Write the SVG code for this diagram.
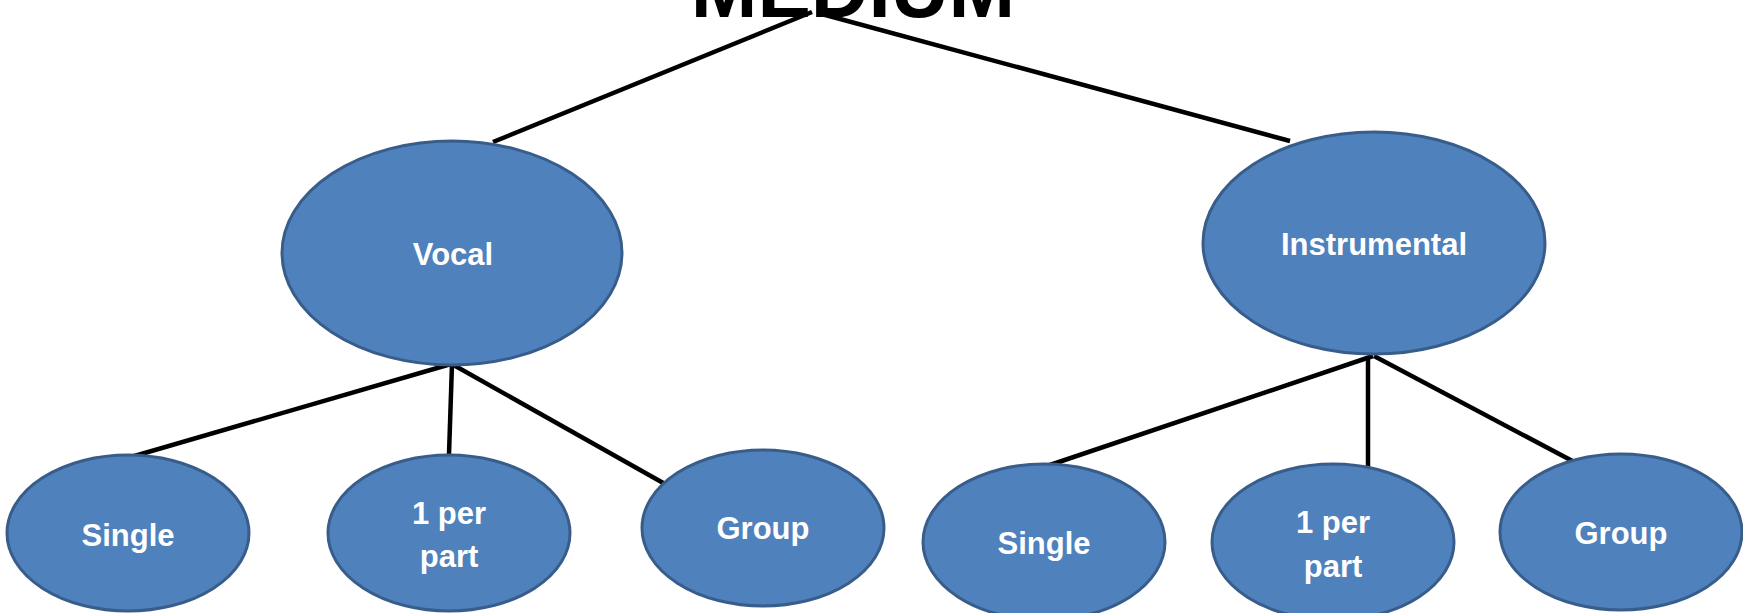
<svg xmlns="http://www.w3.org/2000/svg" width="1743" height="613" viewBox="0 0 1743 613">
<style>
.node ellipse{fill:#4F81BD;stroke:#385D8A;stroke-width:3}
.node text{fill:#FFFFFF;font-family:"Liberation Sans",Arial,sans-serif;font-weight:bold;font-size:31px;text-anchor:middle}
#connectors line{stroke:#000000;stroke-width:4.5;stroke-linecap:butt}
.title{fill:#000000;font-family:"Liberation Sans",Arial,sans-serif;font-weight:bold;font-size:80px;text-anchor:middle}
</style>
<rect width="1743" height="613" fill="#FFFFFF"/>
<g id="connectors">
<line x1="493" y1="142" x2="812" y2="12"/>
<line x1="818" y1="13" x2="1290" y2="141"/>
<line x1="451" y1="364" x2="131" y2="457"/>
<line x1="452" y1="364" x2="449" y2="454"/>
<line x1="450" y1="363" x2="665" y2="484"/>
<line x1="1373" y1="356" x2="1044" y2="467"/>
<line x1="1368" y1="356" x2="1368" y2="468"/>
<line x1="1374" y1="356" x2="1580" y2="465"/>
</g>
<g id="title"><text class="title" x="853" y="17">MEDIUM</text></g>
<g id="vocal" class="node"><ellipse cx="452" cy="253" rx="170" ry="112"/><text x="453" y="265">Vocal</text></g>
<g id="instrumental" class="node"><ellipse cx="1374" cy="243" rx="171" ry="111"/><text x="1374" y="255">Instrumental</text></g>
<g id="vocal-single" class="node"><ellipse cx="128" cy="533" rx="121" ry="78"/><text x="128" y="546">Single</text></g>
<g id="vocal-1perpart" class="node"><ellipse cx="449" cy="533" rx="121" ry="78"/><text x="449" y="524">1 per</text><text x="449" y="567">part</text></g>
<g id="vocal-group" class="node"><ellipse cx="763" cy="528" rx="121" ry="78"/><text x="763" y="539">Group</text></g>
<g id="inst-single" class="node"><ellipse cx="1044" cy="542" rx="121" ry="78"/><text x="1044" y="554">Single</text></g>
<g id="inst-1perpart" class="node"><ellipse cx="1333" cy="542" rx="121" ry="78"/><text x="1333" y="533">1 per</text><text x="1333" y="577">part</text></g>
<g id="inst-group" class="node"><ellipse cx="1621" cy="532" rx="121" ry="78"/><text x="1621" y="544">Group</text></g>
</svg>
